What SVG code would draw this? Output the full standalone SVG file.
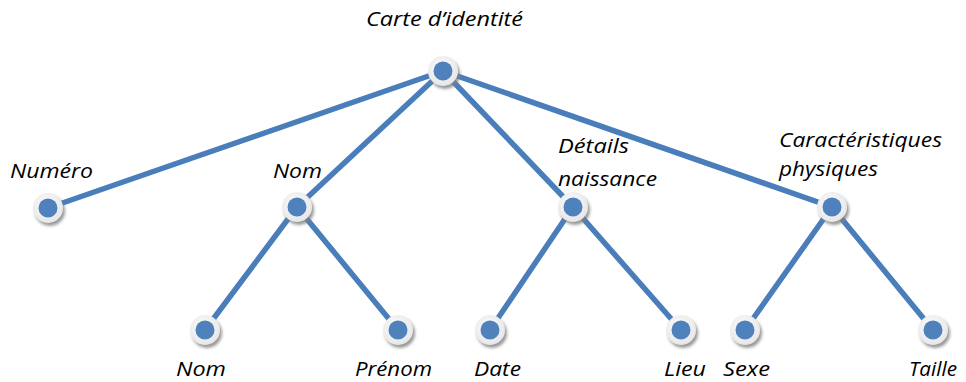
<svg xmlns="http://www.w3.org/2000/svg" width="966" height="382" viewBox="0 0 966 382">
<defs>
<filter id="sh" x="-50%" y="-50%" width="200%" height="200%">
<feDropShadow dx="2" dy="3" stdDeviation="1.5" flood-color="#7f7f7f" flood-opacity="0.8"/>
</filter>
<radialGradient id="ring" cx="45%" cy="40%" r="60%">
<stop offset="0" stop-color="#ffffff"/>
<stop offset="1" stop-color="#e6e6e6"/>
</radialGradient>
</defs>
<style>
.c{stroke:#4A7EBB;stroke-width:5.5;fill:none;stroke-linecap:round}
.o{fill:url(#ring);filter:url(#sh)}
.i{fill:#4F81BD}
text{font-family:"Open Sans","Liberation Sans",sans-serif;font-style:italic;font-size:20px;fill:#000}
</style>
<rect width="966" height="382" fill="#ffffff"/>
<g id="connectors">
<line class="c" x1="443" y1="71" x2="48" y2="208"/>
<line class="c" x1="443" y1="71" x2="297" y2="207"/>
<line class="c" x1="443" y1="71" x2="573" y2="207"/>
<line class="c" x1="443" y1="71" x2="832" y2="207"/>
<line class="c" x1="297" y1="207" x2="205" y2="330"/>
<line class="c" x1="297" y1="207" x2="398" y2="330"/>
<line class="c" x1="573" y1="207" x2="490" y2="330"/>
<line class="c" x1="573" y1="207" x2="681" y2="330"/>
<line class="c" x1="832" y1="207" x2="745" y2="330"/>
<line class="c" x1="832" y1="207" x2="933" y2="330"/>
</g>
<g id="root"><circle class="o" cx="443" cy="71" r="15"/><circle class="i" cx="443" cy="71" r="9.5"/><text x="366" y="26" textLength="157" lengthAdjust="spacingAndGlyphs">Carte d’identité</text></g>
<g id="numero"><circle class="o" cx="48" cy="208" r="15"/><circle class="i" cx="48" cy="208" r="9.5"/><text x="10" y="178" textLength="83" lengthAdjust="spacingAndGlyphs">Numéro</text></g>
<g id="nom"><circle class="o" cx="297" cy="207" r="15"/><circle class="i" cx="297" cy="207" r="9.5"/><text x="273" y="178" textLength="49" lengthAdjust="spacingAndGlyphs">Nom</text></g>
<g id="details"><circle class="o" cx="573" cy="207" r="15"/><circle class="i" cx="573" cy="207" r="9.5"/><text x="558" y="153" textLength="71" lengthAdjust="spacingAndGlyphs">Détails</text><text x="558" y="186" textLength="99" lengthAdjust="spacingAndGlyphs">naissance</text></g>
<g id="caract"><circle class="o" cx="832" cy="207" r="15"/><circle class="i" cx="832" cy="207" r="9.5"/><text x="779" y="147" textLength="163" lengthAdjust="spacingAndGlyphs">Caractéristiques</text><text x="779" y="176" textLength="99" lengthAdjust="spacingAndGlyphs">physiques</text></g>
<g id="nom2"><circle class="o" cx="205" cy="330" r="15"/><circle class="i" cx="205" cy="330" r="9.5"/><text x="176" y="376" textLength="50" lengthAdjust="spacingAndGlyphs">Nom</text></g>
<g id="prenom"><circle class="o" cx="398" cy="330" r="15"/><circle class="i" cx="398" cy="330" r="9.5"/><text x="355" y="376" textLength="77" lengthAdjust="spacingAndGlyphs">Prénom</text></g>
<g id="date"><circle class="o" cx="490" cy="330" r="15"/><circle class="i" cx="490" cy="330" r="9.5"/><text x="474" y="376" textLength="47" lengthAdjust="spacingAndGlyphs">Date</text></g>
<g id="lieu"><circle class="o" cx="681" cy="330" r="15"/><circle class="i" cx="681" cy="330" r="9.5"/><text x="664" y="376" textLength="42" lengthAdjust="spacingAndGlyphs">Lieu</text></g>
<g id="sexe"><circle class="o" cx="745" cy="330" r="15"/><circle class="i" cx="745" cy="330" r="9.5"/><text x="723" y="376" textLength="47" lengthAdjust="spacingAndGlyphs">Sexe</text></g>
<g id="taille"><circle class="o" cx="933" cy="330" r="15"/><circle class="i" cx="933" cy="330" r="9.5"/><text x="909" y="376" textLength="48" lengthAdjust="spacingAndGlyphs">Taille</text></g>
</svg>
